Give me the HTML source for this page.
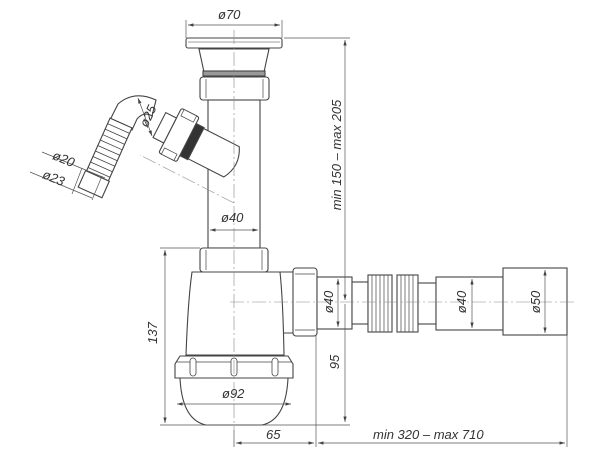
<!DOCTYPE html>
<html><head><meta charset="utf-8"><style>
html,body{margin:0;padding:0;background:#fff;}
svg{display:block;}
text{font-family:"Liberation Sans",sans-serif;font-style:italic;fill:#333;font-size:13px;}
</style></head><body>
<svg width="600" height="450" viewBox="0 0 600 450" xmlns="http://www.w3.org/2000/svg">
<defs>
<marker id="a" viewBox="0 0 10 6" refX="10" refY="3" markerWidth="8" markerHeight="5" orient="auto-start-reverse"><path d="M0,0 L10,3 L0,6z" fill="#444"/></marker>
</defs>
<g fill="#fff" stroke="#444" stroke-width="1.1">
<rect x="186" y="38" width="96" height="10" rx="2"/>
<line x1="188" y1="42" x2="280" y2="42" stroke-width="0.6"/>
<path d="M199,49 L269,49 L264,72 L204,72 Z"/>
<rect x="203" y="71" width="62" height="5" fill="#999"/>
<rect x="200" y="77" width="69" height="23" rx="3"/>
<line x1="206" y1="79" x2="206" y2="98" stroke-width="0.7"/>
<line x1="263" y1="79" x2="263" y2="98" stroke-width="0.7"/>
<rect x="208" y="100" width="52" height="148"/>
<g transform="translate(228,160) rotate(-153)">
<path d="M-4,-17 L36,-17 L36,17 L-4,17 Q-14,0 -4,-17 Z"/>
<rect x="36" y="-18" width="9" height="36" fill="#333"/>
<rect x="45" y="-25" width="20" height="50" rx="2"/>
<rect x="48" y="-25" width="14" height="7" stroke-width="0.7"/>
<rect x="48" y="18" width="14" height="7" stroke-width="0.7"/>
<rect x="65" y="-14" width="12" height="28"/>
</g>
<path d="M156,100 Q134,90 118,104 L110,120 L132,130 L137,119 Q144,111 152,116 Z"/>
<g transform="translate(121,123) rotate(114)">
<rect x="0" y="-12" width="58" height="24"/>
<g stroke-width="0.8">
<line x1="6" y1="-12" x2="6" y2="12"/><line x1="12" y1="-12" x2="12" y2="12"/><line x1="18" y1="-12" x2="18" y2="12"/><line x1="24" y1="-12" x2="24" y2="12"/><line x1="30" y1="-12" x2="30" y2="12"/><line x1="36" y1="-12" x2="36" y2="12"/><line x1="42" y1="-12" x2="42" y2="12"/><line x1="48" y1="-12" x2="48" y2="12"/><line x1="54" y1="-12" x2="54" y2="12"/>
</g>
<rect x="58" y="-13" width="18" height="26"/>
</g>
<rect x="200" y="248" width="68" height="24" rx="3"/>
<line x1="206" y1="250" x2="206" y2="270" stroke-width="0.7"/>
<line x1="262" y1="250" x2="262" y2="270" stroke-width="0.7"/>
<path d="M270,272 L295,272 L295,333 L280,333 Q268,300 270,272 Z"/>
<path d="M192,272 L280,272 Q283,300 284,355 L186,355 Q188,300 192,272 Z"/>
<path d="M180,356 L288,356 L293,364 L293,378 L175,378 L175,364 Z"/>
<line x1="176" y1="362" x2="292" y2="362" stroke-width="0.7"/>
<rect x="190" y="358" width="6" height="18" rx="3" stroke-width="0.8"/>
<rect x="231" y="358" width="6" height="18" rx="3" stroke-width="0.8"/>
<rect x="272" y="358" width="6" height="18" rx="3" stroke-width="0.8"/>
<path d="M180,378 L288,378 Q286,420 262,425 L206,425 Q182,420 180,378 Z"/>
<rect x="293" y="268" width="24" height="68" rx="3"/>
<line x1="295" y1="274" x2="315" y2="274" stroke-width="0.7"/>
<line x1="295" y1="330" x2="315" y2="330" stroke-width="0.7"/>
<rect x="317" y="277" width="35" height="52"/>
<rect x="352" y="282" width="16" height="42"/>
<rect x="368" y="275" width="24" height="57"/>
<rect x="397" y="275" width="21" height="57"/>
<g stroke-width="0.7">
<line x1="372" y1="275" x2="372" y2="332"/><line x1="376" y1="275" x2="376" y2="332"/><line x1="380" y1="275" x2="380" y2="332"/><line x1="384" y1="275" x2="384" y2="332"/><line x1="388" y1="275" x2="388" y2="332"/>
<line x1="401" y1="275" x2="401" y2="332"/><line x1="405" y1="275" x2="405" y2="332"/><line x1="409" y1="275" x2="409" y2="332"/><line x1="413" y1="275" x2="413" y2="332"/>
</g>
<rect x="418" y="283" width="18" height="41"/>
<rect x="436" y="277" width="67" height="53"/>
<rect x="503" y="268" width="64" height="67"/>
</g>
<g stroke="#888" stroke-width="0.6" stroke-dasharray="14,3,2,3" fill="none">
<line x1="234" y1="30" x2="234" y2="430"/>
<line x1="230" y1="302" x2="575" y2="302"/>
<line x1="234" y1="203" x2="140" y2="155"/>
</g>
<g stroke="#555" stroke-width="0.7" fill="none">
<line x1="186" y1="38" x2="186" y2="20"/><line x1="282" y1="38" x2="282" y2="20"/>
<line x1="188" y1="25" x2="280" y2="25" marker-start="url(#a)" marker-end="url(#a)"/>
<line x1="284" y1="38" x2="350" y2="38"/>
<line x1="345" y1="40" x2="345" y2="300" marker-start="url(#a)" marker-end="url(#a)"/>
<line x1="345" y1="304" x2="345" y2="422" marker-end="url(#a)"/>
<line x1="210" y1="230" x2="258" y2="230" marker-start="url(#a)" marker-end="url(#a)"/>
<line x1="160" y1="248" x2="200" y2="248"/><line x1="160" y1="425" x2="350" y2="425"/>
<line x1="165" y1="250" x2="165" y2="423" marker-start="url(#a)" marker-end="url(#a)"/>
<line x1="177" y1="404" x2="291" y2="404" marker-start="url(#a)" marker-end="url(#a)"/>
<line x1="338" y1="279" x2="338" y2="327" marker-start="url(#a)" marker-end="url(#a)"/>
<line x1="472" y1="279" x2="472" y2="328" marker-start="url(#a)" marker-end="url(#a)"/>
<line x1="545" y1="270" x2="545" y2="333" marker-start="url(#a)" marker-end="url(#a)"/>
<line x1="316" y1="336" x2="316" y2="447"/><line x1="234" y1="430" x2="234" y2="447"/>
<line x1="567" y1="335" x2="567" y2="447"/>
<line x1="236" y1="443" x2="314" y2="443" marker-start="url(#a)" marker-end="url(#a)"/>
<line x1="318" y1="443" x2="565" y2="443" marker-start="url(#a)" marker-end="url(#a)"/>
<line x1="138" y1="98" x2="152" y2="136" marker-start="url(#a)" marker-end="url(#a)"/>
<line x1="42" y1="152" x2="105" y2="178"/>
<line x1="30" y1="172" x2="92" y2="198"/>
<line x1="82" y1="168" x2="72" y2="194"/>
<line x1="102" y1="176" x2="92" y2="200"/>
</g>
<text x="218" y="19">ø70</text>
<text x="221" y="222">ø40</text>
<text x="222" y="398">ø92</text>
<text x="266" y="439">65</text>
<text x="373" y="439">min 320 – max 710</text>
<text transform="translate(341,155) rotate(-90)" text-anchor="middle">min 150 – max 205</text>
<text transform="translate(157,333) rotate(-90)" text-anchor="middle">137</text>
<text transform="translate(339,362) rotate(-90)" text-anchor="middle">95</text>
<text transform="translate(333,302) rotate(-90)" text-anchor="middle">ø40</text>
<text transform="translate(466,302) rotate(-90)" text-anchor="middle">ø40</text>
<text transform="translate(540,302) rotate(-90)" text-anchor="middle">ø50</text>
<text transform="translate(152,118) rotate(-65)" text-anchor="middle">ø25</text>
<text transform="translate(62,163) rotate(22)" text-anchor="middle">ø20</text>
<text transform="translate(52,182) rotate(22)" text-anchor="middle">ø23</text>
</svg>
</body></html>
